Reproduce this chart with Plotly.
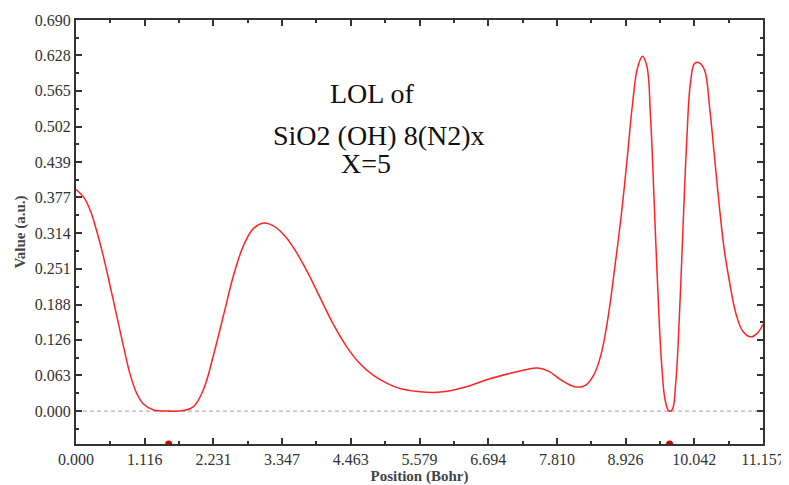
import plotly.graph_objects as go

# LOL profile along the path (Position in Bohr, Value in a.u.)
position = [0.00, 0.127, 0.235, 0.343, 0.451, 0.56, 0.668, 0.776, 0.884, 0.992, 1.10, 1.26,
            1.50, 1.75, 1.91, 2.07, 2.235, 2.40, 2.56, 2.72, 2.88, 3.05, 3.22, 3.40, 3.58,
            3.77, 3.96, 4.18, 4.40, 4.61, 4.83, 5.07, 5.26, 5.59, 5.96, 6.34, 6.72, 7.10, 7.30,
            7.50, 7.68, 7.85, 8.02, 8.15, 8.28, 8.40, 8.52, 8.64, 8.76, 8.86, 8.95, 9.04,
            9.12, 9.20, 9.27, 9.33, 9.39, 9.45, 9.51, 9.57, 9.63, 9.68, 9.74, 9.80, 9.86,
            9.92, 9.98, 10.05, 10.13, 10.21, 10.29, 10.37, 10.45, 10.53, 10.61, 10.72,
            10.83, 10.96, 11.07, 11.157]
value = [0.391, 0.377, 0.353, 0.315, 0.270, 0.218, 0.165, 0.112, 0.063, 0.030, 0.012, 0.002,
         0.000, 0.001, 0.008, 0.038, 0.100, 0.171, 0.240, 0.292, 0.322, 0.332, 0.326, 0.308, 0.280,
         0.243, 0.201, 0.153, 0.113, 0.084, 0.063, 0.048, 0.040, 0.034, 0.034, 0.043, 0.057,
         0.068, 0.073, 0.076, 0.070, 0.057, 0.046, 0.042, 0.046, 0.062, 0.097, 0.165, 0.262,
         0.350, 0.444, 0.544, 0.606, 0.626, 0.609, 0.520, 0.368, 0.210, 0.085, 0.018, 0.000,
         0.002, 0.050, 0.170, 0.330, 0.480, 0.580, 0.614, 0.614, 0.601, 0.536, 0.448, 0.359,
         0.283, 0.230, 0.171, 0.141, 0.131, 0.138, 0.153]

# critical points marked on the x axis
cp_position = [1.505, 9.64]

x_ticks = [0.000, 1.116, 2.231, 3.347, 4.463, 5.579, 6.694, 7.810, 8.926, 10.042, 11.157]
x_tick_labels = ["0.000", "1.116", "2.231", "3.347", "4.463", "5.579", "6.694", "7.810",
                 "8.926", "10.042", "11.157"]
y_ticks = [0.0, 0.063, 0.126, 0.188, 0.251, 0.314, 0.377, 0.439, 0.502, 0.565, 0.628, 0.690]
y_tick_labels = ["0.000", "0.063", "0.126", "0.188", "0.251", "0.314", "0.377", "0.439",
                 "0.502", "0.565", "0.628", "0.690"]

Y_MIN = -0.058
FONT = "Liberation Serif"

fig = go.Figure()
fig.add_trace(go.Scatter(x=position, y=value, mode="lines",
                         line=dict(color="#ff2424", width=1.5, shape="spline", smoothing=1.1),
                         hoverinfo="x+y", showlegend=False))
fig.add_trace(go.Scatter(x=cp_position, y=[Y_MIN] * len(cp_position), mode="markers",
                         marker=dict(color="#cc0000", size=7), cliponaxis=True,
                         showlegend=False))

fig.add_shape(type="line", xref="paper", x0=0, x1=1, yref="y", y0=0, y1=0,
              line=dict(color="#a0a0a0", width=1, dash="4px,3px"), layer="below")

ann_font = dict(family=FONT, size=28, color="#111111")
fig.add_annotation(x=4.80, y=0.560, xref="x", yref="y", text="LOL of", showarrow=False, font=ann_font)
fig.add_annotation(x=4.92, y=0.486, xref="x", yref="y", text="SiO2 (OH) 8(N2)x", showarrow=False, font=ann_font)
fig.add_annotation(x=4.71, y=0.436, xref="x", yref="y", text="X=5", showarrow=False, font=ann_font)

axis_common = dict(showline=True, linecolor="#333333", linewidth=2, mirror="allticks",
                   ticks="inside", tickcolor="#333333", ticklen=6, tickwidth=1.5,
                   showgrid=False, zeroline=False,
                   tickfont=dict(family=FONT, size=16, color="#333333"),
                   minor=dict(ticks="inside", ticklen=3, tickcolor="#333333", tickwidth=1.5))

title_font = dict(family=FONT, size=15, color="#444444", weight="bold")
fig.update_xaxes(range=[0, 11.157], tickvals=x_ticks, ticktext=x_tick_labels,
                 title=dict(text="Position (Bohr)", font=title_font, standoff=0),
                 **axis_common)
fig.update_yaxes(range=[Y_MIN, 0.690], tickvals=y_ticks, ticktext=y_tick_labels,
                 title=dict(text="Value (a.u.)", font=title_font, standoff=6),
                 **axis_common)
fig.update_xaxes(minor=dict(tickvals=[(x_ticks[i] + x_ticks[i + 1]) / 2 for i in range(len(x_ticks) - 1)]))
fig.update_yaxes(minor=dict(tickvals=[y_ticks[0] - 0.0314] +
                            [(y_ticks[i] + y_ticks[i + 1]) / 2 for i in range(len(y_ticks) - 1)]))

# page body has an 8px margin, so the figure is sized to fit the 789x485 window
fig.update_layout(width=781, height=477, plot_bgcolor="white", paper_bgcolor="white",
                  margin=dict(l=67.5, r=25.5, t=11.5, b=41, autoexpand=False),
                  font=dict(family=FONT))
fig.write_html("out.html")
